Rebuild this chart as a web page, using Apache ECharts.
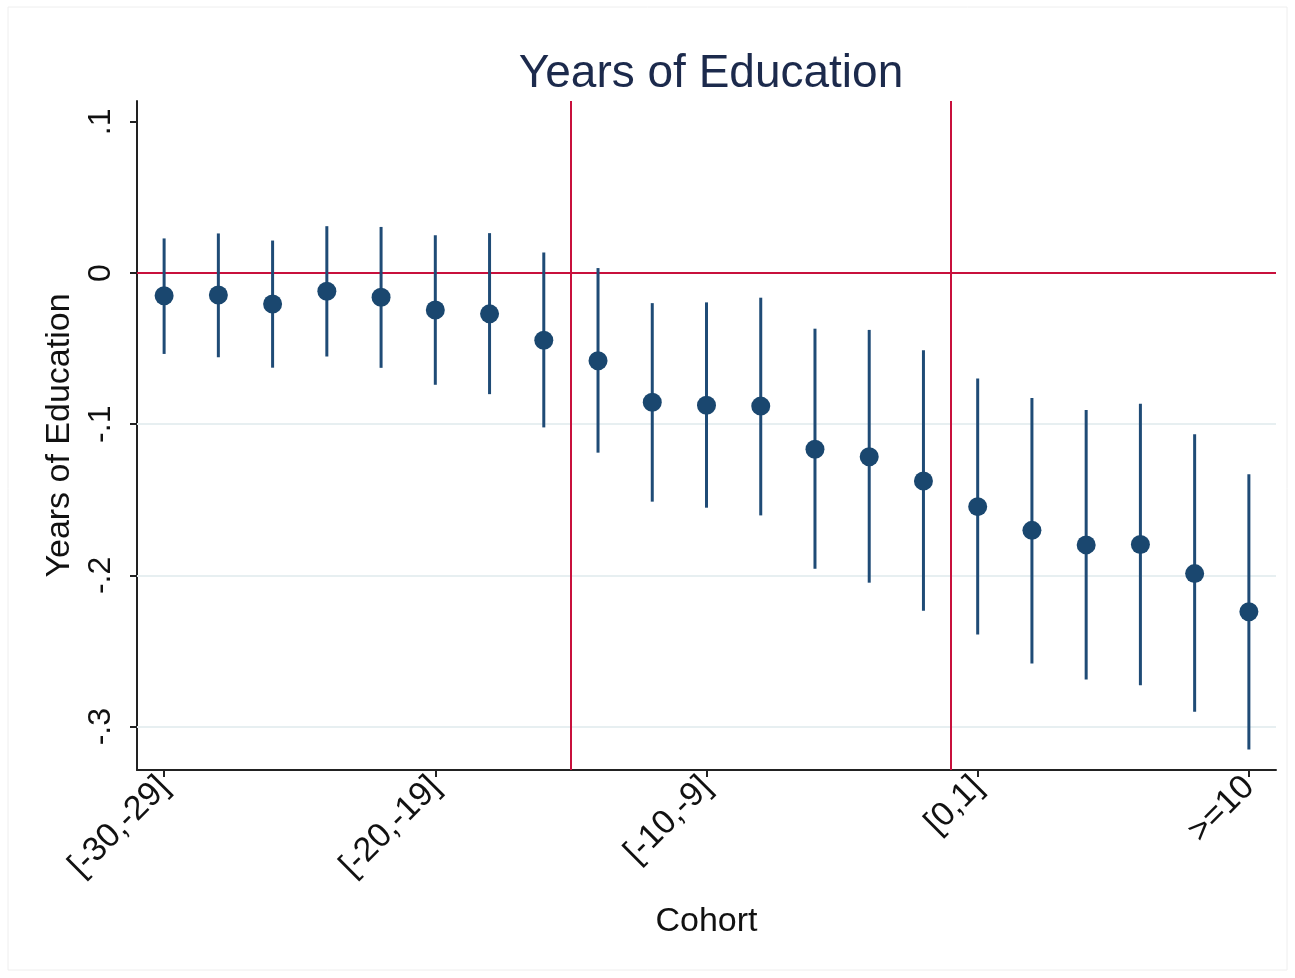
<!DOCTYPE html>
<html>
<head>
<meta charset="utf-8">
<title>Years of Education</title>
<script src="https://cdn.jsdelivr.net/npm/echarts@6/dist/echarts.min.js"></script>
<style>
  html, body { margin: 0; padding: 0; background: #fff; }
  #chart { width: 1295px; height: 978px; }
</style>
</head>
<body>
<div id="chart"></div>
<script>
// cohort bins, two birth years each
const cohorts = ['[-30,-29]', '[-28,-27]', '[-26,-25]', '[-24,-23]', '[-22,-21]', '[-20,-19]', '[-18,-17]',
  '[-16,-15]', '[-14,-13]', '[-12,-11]', '[-10,-9]', '[-8,-7]', '[-6,-5]', '[-4,-3]', '[-2,-1]',
  '[0,1]', '[2,3]', '[4,5]', '[6,7]', '[8,9]', '>=10']
const estimate = [-0.015, -0.0145, -0.0205, -0.012, -0.016, -0.0245, -0.027, -0.0445, -0.058, -0.0855, -0.0875,
  -0.088, -0.1165, -0.1215, -0.1375, -0.1545, -0.1702, -0.1798, -0.1795, -0.1988, -0.224]
const ciLow = [-0.0535, -0.0557, -0.0626, -0.0552, -0.0627, -0.0739, -0.0801, -0.1021, -0.1188, -0.1512, -0.1552,
  -0.1603, -0.1956, -0.2048, -0.2233, -0.2391, -0.2582, -0.2688, -0.2726, -0.2902, -0.3152]
const ciHigh = [0.0229, 0.0262, 0.0215, 0.031, 0.0305, 0.025, 0.0264, 0.0136, 0.0033, -0.0199, -0.0194,
  -0.0163, -0.0368, -0.0376, -0.0511, -0.0697, -0.0826, -0.0906, -0.0865, -0.1066, -0.133]

const xTicks = [0, 5, 10, 15, 20]
const yTicks = [-0.3, -0.2, -0.1, 0, 0.1]
const gridValues = [-0.1, -0.2, -0.3]
const refY = [0]
const refX = [7.5, 14.5]

const navy = '#1a476f'
const red = '#c8103c'
const font = 'Liberation Sans, Arial, sans-serif'

const chart = echarts.init(document.getElementById('chart'))

const fmtY = v => {
  if (Math.abs(v) < 1e-9) return '0'
  return v.toFixed(1).replace('0.', '.')
}

const option = {
  backgroundColor: '#fff',
  animation: false,
  title: {
    text: 'Years of Education',
    left: 706,
    top: 46,
    textAlign: 'center',
    textStyle: {
      fontFamily: font,
      fontSize: 46,
      fontWeight: 'normal',
      color: '#1c2a4c'
    }
  },
  graphic: [{
    type: 'rect',
    shape: { x: 8, y: 7, width: 1279, height: 963 },
    style: { fill: 'none', stroke: '#eeeeee', lineWidth: 1 },
    silent: true
  }],
  grid: {
    left: 137,
    right: 19,
    top: 101,
    bottom: 208
  },
  xAxis: {
    type: 'value',
    min: -0.5,
    max: 20.5,
    name: 'Cohort',
    nameLocation: 'middle',
    nameGap: 135,
    nameTextStyle: { fontFamily: font, fontSize: 34, color: '#111' },
    axisLine: { show: true, onZero: false, lineStyle: { color: '#222', width: 2 } },
    axisTick: { show: true, customValues: xTicks, length: 7, lineStyle: { color: '#222', width: 2 } },
    axisLabel: {
      customValues: xTicks,
      rotate: 45,
      margin: 12,
      fontFamily: font,
      fontSize: 34,
      color: '#111',
      formatter: v => cohorts[Math.round(v)]
    },
    splitLine: { show: false }
  },
  yAxis: {
    type: 'value',
    min: -0.3287,
    max: 0.1138,
    name: 'Years of Education',
    nameLocation: 'middle',
    nameRotate: 90,
    nameGap: 52,
    nameTextStyle: { fontFamily: font, fontSize: 34, color: '#111' },
    axisLine: { show: true, onZero: false, lineStyle: { color: '#222', width: 2 } },
    axisTick: { show: true, customValues: yTicks, length: 7, lineStyle: { color: '#222', width: 2 } },
    axisLabel: {
      customValues: yTicks,
      rotate: 90,
      margin: 20,
      fontFamily: font,
      fontSize: 32,
      color: '#111',
      formatter: fmtY
    },
    splitLine: { show: false }
  },
  series: [
    {
      // light horizontal gridlines
      type: 'line',
      data: [],
      silent: true,
      z: 1,
      markLine: {
        z: 1,
        silent: true,
        symbol: 'none',
        label: { show: false },
        lineStyle: { color: '#e7eff1', width: 2, type: 'solid' },
        data: gridValues.map(v => ({ yAxis: v }))
      }
    },
    {
      // red reference lines
      type: 'line',
      data: [],
      silent: true,
      z: 2,
      markLine: {
        z: 2,
        silent: true,
        symbol: 'none',
        label: { show: false },
        lineStyle: { color: red, width: 2, type: 'solid' },
        data: refY.map(v => ({ yAxis: v })).concat(refX.map(v => ({ xAxis: v })))
      }
    },
    {
      // confidence intervals
      type: 'custom',
      z: 3,
      data: estimate.map((v, i) => [i, ciLow[i], ciHigh[i]]),
      renderItem: (params, api) => {
        const lo = api.coord([api.value(0), api.value(1)])
        const hi = api.coord([api.value(0), api.value(2)])
        return {
          type: 'line',
          shape: { x1: lo[0], y1: lo[1], x2: hi[0], y2: hi[1] },
          style: { stroke: '#1f4b76', lineWidth: 3 }
        }
      },
      encode: { x: 0, y: [1, 2] }
    },
    {
      type: 'scatter',
      z: 4,
      symbol: 'circle',
      symbolSize: 19,
      itemStyle: { color: navy, opacity: 1 },
      data: estimate.map((v, i) => [i, v])
    }
  ]
}

chart.setOption(option)
</script>
</body>
</html>
